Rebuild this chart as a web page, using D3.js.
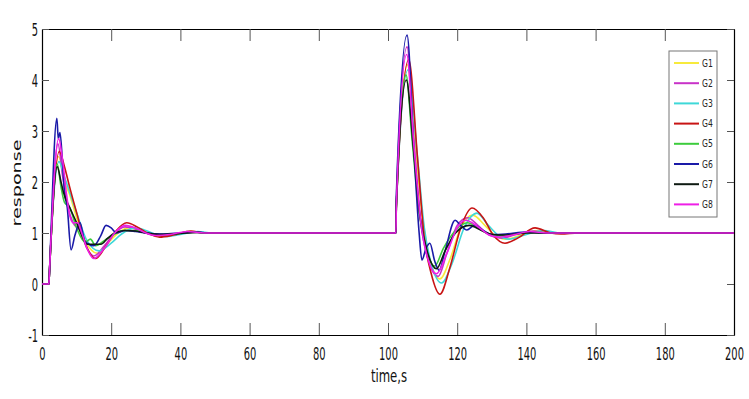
<!DOCTYPE html>
<html>
<head>
<meta charset="utf-8">
<script src="https://cdn.jsdelivr.net/npm/d3@7"></script>
<style>
  body { margin: 0; background: #fff; }
  svg { display: block; }
  .tick line { stroke: #555; }
  .domain { stroke: #000; }
</style>
</head>
<body>
<svg></svg>
<script>
'use strict';
// series, [time, response]
var g1 = [[0,0],[2,0],[2.1,0.15],[4.8,2.5],[6.5,2.0],[8,1.75],[10,1.3],[12.5,0.85],[16,0.6],[19,0.8],[22,1.0],[25,1.1],[28,1.07],[31,0.98],[34,0.94],[38,0.97],[43,1.03],[47,1.0],
  [102.3,1],[102.4,1.5],[105.6,4.3],[108,2.6],[110,1.3],[112,0.5],[115,0.1],[118,0.5],[121,1.1],[124.5,1.35],[128,1.15],[131,0.95],[134,0.88],[138,0.95],[143,1.05],[148,1.0],[200,1]];
var g2 = [[0,0],[2,0],[2.1,0.15],[4.6,2.75],[6,2.1],[7.5,1.5],[9,1.2],[11,1.05],[13,0.7],[15,0.55],[18,0.75],[21,1.0],[24,1.12],[27,1.08],[30,1.0],[33,0.95],[38,0.98],[43,1.02],[47,1.0],
  [102.3,1],[102.4,1.6],[105.5,4.65],[107.5,2.8],[109.5,1.2],[111.5,0.5],[114.5,0.15],[117,0.6],[120,1.15],[123,1.3],[126,1.15],[129.5,0.95],[133,0.9],[137,0.97],[142,1.04],[147,1.0],[200,1]];
var g3 = [[0,0],[2,0],[2.1,0.15],[4.9,2.4],[6.5,2.1],[8,1.8],[10,1.4],[13,0.85],[16.5,0.65],[20,0.8],[23,0.98],[27,1.1],[30,1.05],[33,0.97],[36,0.93],[40,0.97],[45,1.03],[49,1.0],
  [102.3,1],[102.4,1.5],[105.8,4.2],[108.5,2.5],[110.5,1.1],[112.5,0.4],[115.5,0.02],[118.5,0.4],[122,1.1],[125.7,1.39],[129,1.15],[132,0.95],[135,0.88],[139,0.95],[145,1.05],[150,1.0],[200,1]];
var g4 = [[0,0],[2,0],[2.1,0.15],[5,2.6],[6.5,2.3],[8,1.9],[10,1.4],[12.5,0.8],[15.5,0.5],[18.5,0.75],[21.5,1.05],[24.5,1.2],[27.5,1.12],[30.5,1.0],[34,0.92],[38,0.96],[43,1.04],[47,1.0],
  [102.3,1],[102.4,1.5],[106,4.4],[108.5,2.5],[110.5,0.9],[112.5,0.2],[115,-0.2],[118,0.35],[121,1.1],[124.3,1.49],[127.5,1.3],[130.5,0.95],[133.8,0.8],[137.5,0.9],[142.5,1.1],[147,1.0],[150,0.98],[155,1.0],[200,1]];
var g5 = [[0,0],[2,0],[2.1,0.15],[4.4,2.35],[5.5,1.9],[6.5,1.6],[8,1.5],[10,1.1],[12.5,0.82],[14,0.88],[15.5,0.75],[18,0.85],[21,0.98],[23.5,1.05],[27,1.05],[30,1.0],[34,0.97],[40,0.99],[44,1.02],[47,1.0],
  [102.3,1],[102.4,1.5],[105.2,4.1],[107,2.8],[109,1.4],[111,0.7],[113.5,0.35],[116,0.7],[119.5,1.05],[123,1.2],[126,1.1],[129,0.98],[132,0.95],[137,0.98],[142,1.02],[147,1.0],[200,1]];
var g6 = [[0,0],[2,0],[2.1,0.15],[4.3,3.25],[4.7,2.85],[5.2,2.97],[6,2.3],[6.5,1.8],[7.3,1.5],[8.4,0.67],[9.5,0.95],[11,1.2],[12.3,0.85],[13.5,0.78],[15,0.75],[17,0.95],[18.5,1.15],[20,1.1],[21.5,1.0],[24,1.05],[27,1.03],[30,1.0],[35,0.98],[40,1.0],[45,1.02],[48,1.0],
  [102.3,1],[102.4,1.7],[105.5,4.88],[107.5,2.6],[109,1.0],[109.8,0.47],[111,0.7],[112.1,0.8],[113.5,0.45],[114.8,0.27],[116.5,0.65],[119.4,1.25],[121,1.15],[122.8,1.06],[125,1.15],[127.5,1.05],[130,0.97],[134,0.98],[140,1.02],[145,1.0],[200,1]];
var g7 = [[0,0],[2,0],[2.1,0.15],[4.4,2.3],[5.5,2.0],[6.2,1.8],[8,1.5],[10,1.2],[11.5,0.95],[13,0.78],[17,0.78],[19,0.9],[21,1.0],[24,1.05],[27,1.04],[30,1.0],[34,0.97],[40,0.99],[45,1.01],[48,1.0],
  [102.3,1],[102.4,1.5],[105.3,4.0],[107.3,2.7],[109.3,1.3],[111.5,0.6],[114,0.3],[116.5,0.65],[119.5,1.0],[123.5,1.15],[127,1.05],[130,0.97],[134,0.96],[140,1.0],[145,1.0],[200,1]];
var g8 = [[0,0],[2,0],[2.1,0.15],[4.8,2.85],[6,2.4],[7,1.8],[8,1.35],[9,1.2],[10.3,1.2],[11.5,1.0],[13,0.7],[15,0.5],[18,0.7],[21,1.0],[24,1.15],[27,1.1],[30,1.0],[33,0.95],[37,0.97],[42,1.03],[47,1.0],
  [102.3,1],[102.4,1.5],[105.4,4.5],[107.5,2.7],[109.5,1.2],[111.5,0.5],[114,0.2],[117,0.6],[120,1.1],[122.5,1.25],[126,1.12],[129,0.97],[132,0.92],[136,0.96],[141,1.03],[146,1.0],[200,1]];

var names = ['G1','G2','G3','G4','G5','G6','G7','G8'];
var series = [g1, g2, g3, g4, g5, g6, g7, g8];
var colors = ['#f7ea3c','#c832c8','#3ed8d8','#c81414','#3ccc3c','#1a1aa8','#0e1a12','#ee1fe6'];
var xTicks = [0,20,40,60,80,100,120,140,160,180,200];
var yTicks = [-1,0,1,2,3,4,5];

var canvasWidth = 749;
var canvasHeight = 399;
var margin = {top: 29, right: 15, bottom: 64, left: 42};
var width = canvasWidth - margin.left - margin.right;
var height = canvasHeight - margin.top - margin.bottom;

var svg = d3.select('svg')
  .attr('width', canvasWidth)
  .attr('height', canvasHeight);

var graphArea = svg.append('g')
  .attr('transform', 'translate(' + margin.left + ',' + margin.top + ')');

var xScale = d3.scaleLinear().domain([0, 200]).range([0, width]);
var yScale = d3.scaleLinear().domain([-1, 5]).range([height, 0]);

var numFont = '"Liberation Sans Narrow", "DejaVu Sans Condensed", sans-serif';
var plain = function(d) { return String(d); };

// axes, MATLAB style box with inward ticks
var xAxis = graphArea.append('g')
  .attr('transform', 'translate(0,' + height + ')')
  .call(d3.axisBottom(xScale).tickValues(xTicks).tickFormat(plain).tickSizeInner(-12).tickSizeOuter(0));
xAxis.selectAll('text')
  .attr('y', 0).attr('dy', 0)
  .attr('transform', 'translate(0,25) scale(1,1.6)')
  .style('font-family', numFont).style('font-size', '11px').style('fill', '#111');

graphArea.append('g')
  .call(d3.axisTop(xScale).tickValues(xTicks).tickSizeInner(-12).tickSizeOuter(0).tickFormat(''));

var yAxis = graphArea.append('g')
  .call(d3.axisLeft(yScale).tickValues(yTicks).tickFormat(plain).tickSizeInner(-7).tickSizeOuter(0));
yAxis.selectAll('text')
  .attr('x', 0).attr('dy', 0)
  .attr('transform', 'translate(-4,6) scale(1,1.6)')
  .style('text-anchor', 'end')
  .style('font-family', numFont).style('font-size', '11px').style('fill', '#111');

graphArea.append('g')
  .attr('transform', 'translate(' + width + ',0)')
  .call(d3.axisRight(yScale).tickValues(yTicks).tickSizeInner(-7).tickSizeOuter(0).tickFormat(''));

graphArea.selectAll('.domain').attr('stroke-width', 1.2);

// lines
var line = d3.line()
  .x(function(d) { return xScale(d[0]); })
  .y(function(d) { return yScale(d[1]); })
  .curve(d3.curveMonotoneX);

graphArea.selectAll('path.series').data(series).enter().append('path')
  .attr('class', 'series')
  .attr('d', line)
  .attr('fill', 'none')
  .attr('stroke', function(d, i) { return colors[i]; })
  .attr('stroke-width', 1.6)
  .attr('stroke-linejoin', 'round');

// axis titles
svg.append('text')
  .attr('transform', 'translate(' + (margin.left + width / 2 + 1) + ',382) scale(1,1.4)')
  .style('text-anchor', 'middle')
  .style('font-family', numFont).style('font-size', '13px').style('fill', '#111')
  .text('time,s');

svg.append('text')
  .attr('transform', 'translate(21,183) rotate(-90) scale(1.6,1)')
  .style('text-anchor', 'middle')
  .style('font-family', '"DejaVu Sans", sans-serif').style('font-size', '12px').style('fill', '#111')
  .text('response');

// legend
var legend = svg.append('g').attr('transform', 'translate(669,51)');
legend.append('rect')
  .attr('width', 48).attr('height', 166)
  .attr('fill', '#fff').attr('stroke', '#777').attr('stroke-width', 1);
var items = legend.selectAll('g.item').data(names).enter().append('g')
  .attr('class', 'item')
  .attr('transform', function(d, i) { return 'translate(0,' + (12 + i * 20.2) + ')'; });
items.append('line')
  .attr('x1', 5).attr('x2', 30)
  .attr('stroke', function(d, i) { return colors[i]; })
  .attr('stroke-width', 2);
items.append('text')
  .attr('transform', 'translate(33,3.5) scale(1,1.3)')
  .style('font-family', numFont).style('font-size', '8.5px').style('fill', '#222')
  .text(function(d) { return d; });
</script>
</body>
</html>
